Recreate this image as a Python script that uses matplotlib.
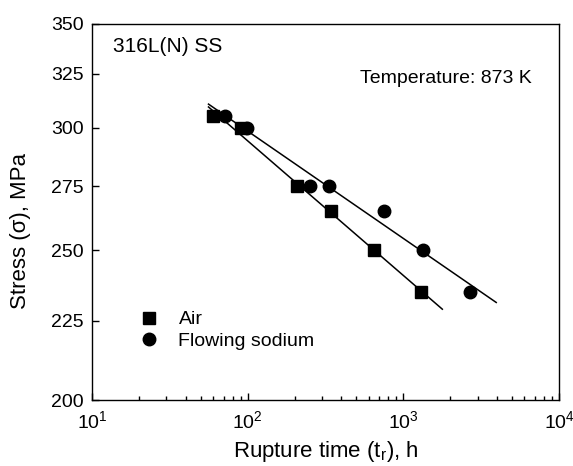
import numpy as np
import matplotlib.pyplot as plt
from matplotlib.ticker import FixedLocator, FixedFormatter, NullLocator

plt.rcParams['font.family'] = ['Liberation Sans', 'DejaVu Sans']
plt.rcParams['mathtext.fontset'] = 'custom'
plt.rcParams['mathtext.rm'] = 'Liberation Sans'
plt.rcParams['mathtext.it'] = 'Liberation Sans'

# rupture data at 873 K
air_time = [60, 90, 207, 343, 647, 1297]
air_stress = [305, 300, 275, 265, 250, 235]
na_time = [71.5, 99, 251, 333, 750, 1336, 2680]
na_stress = [305, 300, 275, 275, 265, 250, 235]

# fit line ranges (h)
air_fit_range = [56, 1780]
na_fit_range = [56, 3950]

y_ticks = [200, 225, 250, 275, 300, 325, 350]

fig = plt.figure(figsize=(5.73, 4.66), dpi=100)
ax = fig.add_axes([0.1606, 0.1416, 0.8150, 0.8069])

ax.set_xscale('log')
ax.set_yscale('log')
ax.set_xlim(10, 1e4)
ax.set_ylim(200, 350)

# power-law fits sigma = A * t^n
for t, s, rng in [(air_time, air_stress, air_fit_range), (na_time, na_stress, na_fit_range)]:
    n, logA = np.polyfit(np.log10(t), np.log10(s), 1)
    tt = np.array(rng)
    ax.plot(tt, 10 ** (logA + n * np.log10(tt)), color='black', lw=1.1, zorder=2)

ax.plot(air_time, air_stress, 's', color='black', ms=8.5, label='Air', zorder=3)
ax.plot(na_time, na_stress, 'o', color='black', ms=9, label='Flowing sodium', zorder=3)

ax.yaxis.set_major_locator(FixedLocator(y_ticks))
ax.yaxis.set_major_formatter(FixedFormatter([str(v) for v in y_ticks]))
ax.yaxis.set_minor_locator(NullLocator())

ax.tick_params(axis='both', which='major', direction='in', length=5, width=1,
               labelsize=14, top=False, right=False, pad=6)
ax.tick_params(axis='x', which='minor', direction='in', length=3, width=1, top=False)
ax.tick_params(axis='x', which='major', pad=7)
for sp in ax.spines.values():
    sp.set_linewidth(1)

ax.set_xlabel('Rupture time (t$_\\mathregular{r}$), h', fontsize=16, labelpad=5)
ax.set_ylabel('Stress (σ), MPa', fontsize=16)
ax.yaxis.set_label_coords(-0.13, 0.45)

ax.text(0.045, 0.939, '316L(N) SS', transform=ax.transAxes, fontsize=15,
        ha='left', va='center')
ax.text(0.942, 0.854, 'Temperature: 873 K', transform=ax.transAxes, fontsize=14,
        ha='right', va='center')

ax.legend(loc='upper left', bbox_to_anchor=(0.081, 0.258), frameon=False,
          fontsize=14, handlelength=1.2, handletextpad=0.9, labelspacing=0.2,
          borderaxespad=0)

fig.savefig('out.png', dpi=100)
